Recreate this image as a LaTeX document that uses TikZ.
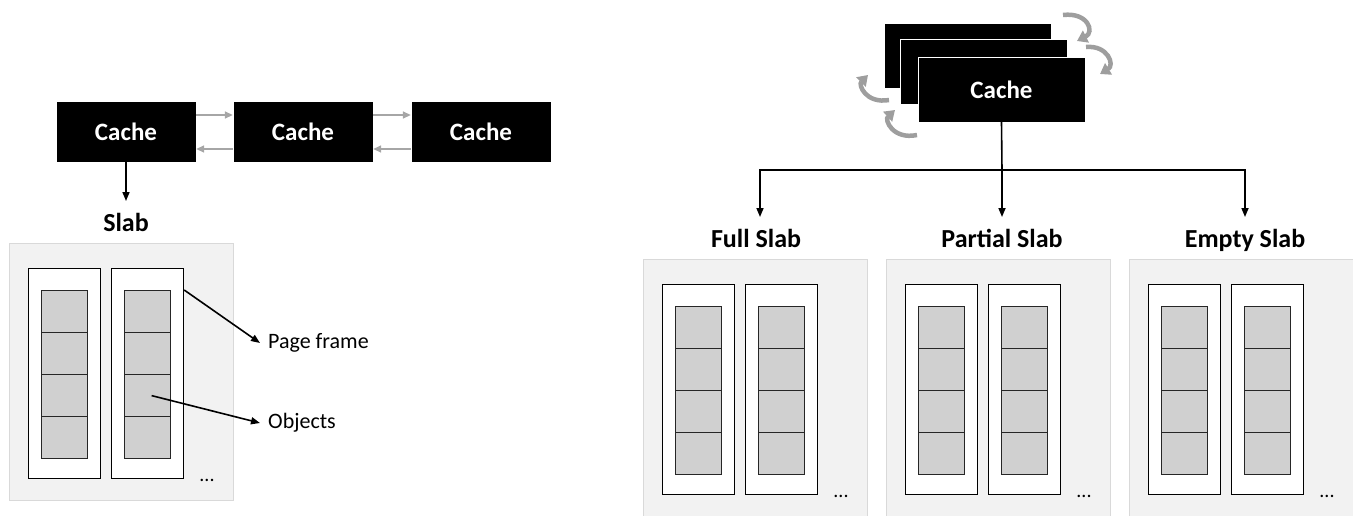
\documentclass[tikz,border=0pt]{standalone}
\usepackage{fontspec}
\setmainfont{Carlito}
\usepackage{xcolor}
\usetikzlibrary{arrows.meta}
\definecolor{slabfill}{HTML}{F2F2F2}
\definecolor{slabedge}{HTML}{D9D9D9}
\definecolor{objfill}{HTML}{D0D0D0}
\definecolor{linkgray}{HTML}{A6A6A6}
\definecolor{spingray}{HTML}{9E9E9E}
\tikzstyle{cachebox} =[
    fill=black,
    draw=white,
    text=white,
    font=\fontsize{25}{28}\selectfont\bfseries,
    minimum width=140pt,
    minimum height=61pt,
    inner sep=0pt
    ]
\tikzstyle{bigcache} =[
    cachebox,
    minimum width=167pt,
    minimum height=65pt
    ]
\tikzstyle{slabbox} =[
    fill=slabfill,
    draw=slabedge,
    line width=1pt,
    minimum width=224pt,
    minimum height=257pt,
    inner sep=0pt,
    anchor=north west
    ]
\tikzstyle{pagebox} =[
    fill=white,
    draw=black,
    line width=1.2pt,
    minimum width=72pt,
    minimum height=210pt,
    inner sep=0pt,
    anchor=north west
    ]
\tikzstyle{objcell} =[
    fill=objfill,
    draw=black!85,
    line width=1.2pt,
    minimum width=46pt,
    minimum height=42pt,
    inner sep=0pt,
    anchor=north west
    ]
\tikzstyle{slabtitle} =[font=\fontsize{26}{30}\selectfont\bfseries, text height=18pt, text depth=6pt]
\tikzstyle{notelabel} =[font=\fontsize{22}{26}\selectfont, anchor=west, inner sep=8pt]
\tikzstyle{arr} =[-{Triangle[length=9pt,width=7pt]}, line width=1.6pt]
\tikzstyle{link} =[-{Triangle[length=8pt,width=7pt]}, line width=1.6pt, draw=linkgray]
\tikzstyle{spin} =[-{Triangle[length=10pt,width=13pt]}, line width=4.5pt, draw=spingray]

% one slab: name, left x, top y
\newcommand{\slabat}[3]{%
  \node[slabbox] (#1) at (#2,#3) {};
  \begin{scope}[shift={(#2,#3)}]
    \foreach \p/\dx in {1/19,2/102} {
      \node[pagebox] (#1-pf\p) at (\dx,25) {};
      \foreach \k in {0,...,3}
        \node[objcell] (#1-o\p-\k) at ({\dx+13},{47+42*\k}) {};
    }
    \node[font=\fontsize{20}{22}\selectfont] (#1-dots) at (198,237) {...};
  \end{scope}
}

\begin{document}
\begin{tikzpicture}[x=1pt,y=-1pt]
\useasboundingbox (0,0) rectangle (1353,515);

% list of caches
\node[cachebox] (c1) at (126,131.5) {Cache};
\node[cachebox] (c2) at (303,131.5) {Cache};
\node[cachebox] (c3) at (481,131.5) {Cache};
\draw[link] ([yshift=16.5pt]c1.east) -- ([yshift=16.5pt]c2.west);
\draw[link] ([yshift=-17.5pt]c2.west) -- ([yshift=-17.5pt]c1.east);
\draw[link] ([yshift=16.5pt]c2.east) -- ([yshift=16.5pt]c3.west);
\draw[link] ([yshift=-17.5pt]c3.west) -- ([yshift=-17.5pt]c2.east);

\node[slabtitle] (lbl0) at (126,225) {Slab};
\draw[arr] (c1.south) -- ([yshift=24pt]lbl0.center);
\slabat{s0}{9}{243}

\node[notelabel] (pflbl) at (260,343) {Page frame};
\node[notelabel] (objlbl) at (260,423) {Objects};
\draw[arr] (s0-pf2.east |- s0-o2-0.north) -- (pflbl.west);
\draw[arr] ([xshift=4pt]s0-o2-2.center) -- (objlbl.west);

% stacked caches
\node[bigcache] (cb) at (967.5,55.5) {};
\node[bigcache] (cm) at (984,72) {};
\node[bigcache] (cf) at (1001.5,89.5) {Cache};

\draw[spin] (1063,15) .. controls (1088,12) and (1095,32) .. (1077,41);
\draw[spin] (1086,47) .. controls (1108,45) and (1115,65) .. (1100,74);
\draw[spin] (889,100) .. controls (866,104) and (858,85) .. (868,75);
\draw[spin] (917,135) .. controls (893,140) and (884,120) .. (895,110);

\node[slabtitle] (lbl1) at (756,241) {Full Slab};
\node[slabtitle] (lbl2) at (1002,241) {Partial Slab};
\node[slabtitle] (lbl3) at (1245,241) {Empty Slab};

\coordinate (fork) at (1002,170);
\draw[line width=1.6pt] (cf.south) -- (fork);
\draw[arr] (fork) -| ([xshift=4pt,yshift=24pt]lbl1.center);
\draw[arr] (fork) -- ([yshift=24pt]lbl2.center);
\draw[arr] (fork) -| ([yshift=24pt]lbl3.center);

\slabat{s1}{643}{259}
\slabat{s2}{886}{259}
\slabat{s3}{1129}{259}
\end{tikzpicture}
\end{document}
